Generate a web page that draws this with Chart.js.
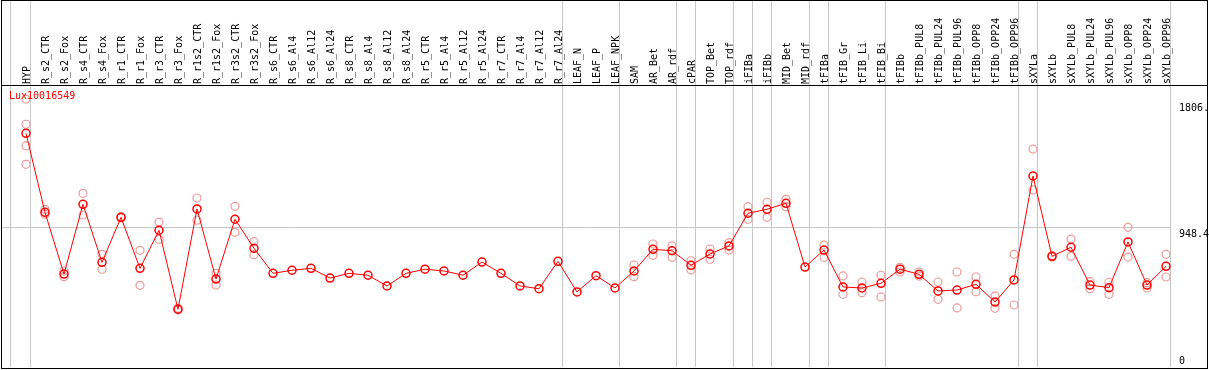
<!DOCTYPE html>
<html>
<head>
<meta charset="utf-8">
<script src="https://cdn.jsdelivr.net/npm/chart.js@4"></script>
<style>
  body { margin: 0; background: #fff; }
  canvas { display: block; }
</style>
</head>
<body>
<canvas id="chart" width="1209" height="370"></canvas>
<script>
// sample names along the top
const categories = [
  "HYP", "R_s2_CTR", "R_s2_Fox", "R_s4_CTR", "R_s4_Fox", "R_r1_CTR", "R_r1_Fox",
  "R_r3_CTR", "R_r3_Fox", "R_r1s2_CTR", "R_r1s2_Fox", "R_r3s2_CTR", "R_r3s2_Fox",
  "R_s6_CTR", "R_s6_Al4", "R_s6_Al12", "R_s6_Al24", "R_s8_CTR", "R_s8_Al4",
  "R_s8_Al12", "R_s8_Al24", "R_r5_CTR", "R_r5_Al4", "R_r5_Al12", "R_r5_Al24",
  "R_r7_CTR", "R_r7_Al4", "R_r7_Al12", "R_r7_Al24", "LEAF_N", "LEAF_P", "LEAF_NPK",
  "SAM", "AR_Bet", "AR_rdf", "cPAR", "TOP_Bet", "TOP_rdf", "iFIBa", "iFIBb",
  "MID_Bet", "MID_rdf", "tFIBa", "tFIB_Gr", "tFIB_Li", "tFIB_Bi", "tFIBb",
  "tFIBb_PUL8", "tFIBb_PUL24", "tFIBb_PUL96", "tFIBb_OPP8", "tFIBb_OPP24", "tFIBb_OPP96",
  "sXYLa", "sXYLb", "sXYLb_PUL8", "sXYLb_PUL24", "sXYLb_PUL96", "sXYLb_OPP8",
  "sXYLb_OPP24", "sXYLb_OPP96"
];

// mean expression per sample
const meanValues = [
  1594, 1055, 634, 1110, 714, 1021, 673, 933, 394, 1078, 600, 1008, 810,
  639, 660, 673, 607, 639, 626, 553, 639, 667, 655, 626, 716,
  639, 553, 534, 721, 512, 623, 539,
  655, 803, 793, 694, 771, 826, 1049, 1076, 1117, 682,
  798, 546, 539, 571, 667, 632, 519, 525, 564, 443, 594,
  1303, 755, 817, 559, 541, 853, 559, 687
];

// individual replicates (pale circles)
const replicateValues = [
  [1828, 1656, 1508, 1383], [1076, 1042], [655, 616], [1185, 1037], [769, 667],
  [1025, 1017], [796, 557], [989, 871], [400, 389], [1153, 1001], [639, 559],
  [1096, 919], [855, 766],
  [], [], [], [], [], [], [], [], [], [], [], [], [], [], [], [], [], [], [],
  [696, 616], [839, 762], [826, 748], [725, 662], [805, 735], [848, 798],
  [1094, 1008], [1124, 1021], [1144, 1094], [],
  [832, 748], [621, 496], [580, 507], [626, 478], [680, 648], [648, 620],
  [580, 462], [648, 403], [614, 514], [484, 400], [769, 423],
  [1487, 1208], [760, 750], [873, 755], [582, 534], [578, 496], [953, 750],
  [575, 539], [769, 614]
];

// right-hand axis
const tickValues = [0, 948.4, 1806];
const tickLabels = ["0", "948.4", "1806."];

// group separator positions (between samples)
const separators = [-0.8, 0.25, 28.25, 31.25, 34.25, 35.25, 37.25, 38.25, 39.25,
  41.25, 42.25, 45.25, 52.25, 53.25, 60.25];

const probeName = "Lux10016549";
const mono = "'DejaVu Sans Mono', 'Liberation Mono', monospace";

const meanPoints = meanValues.map((v, i) => ({ x: i, y: v }));
const repPoints = replicateValues.flatMap((reps, i) => reps.map(v => ({ x: i, y: v })));

const noPad = s => { s.paddingLeft = 0; s.paddingRight = 0; };

const frame = {
  id: "frame",
  afterDraw(chart) {
    const { ctx, chartArea, scales } = chart;
    ctx.save();
    // right axis labels
    ctx.font = "10px " + mono;
    ctx.fillStyle = "#000";
    ctx.textBaseline = "top";
    ctx.textAlign = "left";
    tickValues.forEach((v, i) => {
      let y = scales.y.getPixelForValue(v) + 1;
      y = Math.min(y, chartArea.bottom - 11);
      ctx.fillText(tickLabels[i], chartArea.right + 8, y);
    });
    // probe name
    ctx.fillStyle = "#ff0000";
    ctx.fillText(probeName, chartArea.left + 7, chartArea.top + 5);
    // borders
    ctx.strokeStyle = "#000";
    ctx.lineWidth = 1;
    ctx.strokeRect(1.5, 0.5, 1206, 368);
    ctx.beginPath();
    ctx.moveTo(1, 85.5);
    ctx.lineTo(1208, 85.5);
    ctx.stroke();
    ctx.restore();
  }
};

new Chart(document.getElementById("chart"), {
  type: "scatter",
  data: {
    datasets: [
      {
        label: probeName,
        data: meanPoints,
        showLine: true,
        borderColor: "#ff0000",
        borderWidth: 1,
        pointRadius: 4,
        pointBorderWidth: 1.5,
        pointBorderColor: "#ff0000",
        pointBackgroundColor: "rgba(0,0,0,0)",
        tension: 0,
        order: 0
      },
      {
        label: "replicates",
        data: repPoints,
        showLine: false,
        pointRadius: 4,
        pointBorderWidth: 1.2,
        pointBorderColor: "#ee9a9a",
        pointBackgroundColor: "rgba(0,0,0,0)",
        order: 1
      }
    ]
  },
  options: {
    responsive: false,
    animation: false,
    layout: { autoPadding: false, padding: { left: 2, right: 0, top: 0, bottom: 3 } },
    plugins: { legend: { display: false }, tooltip: { enabled: false } },
    scales: {
      x: {
        type: "linear",
        position: "top",
        weight: 1,
        min: -1.263,
        max: 60.263,
        afterBuildTicks: s => { s.ticks = categories.map((c, i) => ({ value: i })); },
        afterFit: s => { s.height = 86; noPad(s); },
        grid: { display: false, drawTicks: false },
        border: { display: false },
        ticks: {
          autoSkip: false,
          maxRotation: 90,
          minRotation: 90,
          padding: 2,
          labelOffset: 13,
          color: "#000",
          font: { family: mono, size: 10 },
          callback: v => categories[v]
        }
      },
      x2: {
        type: "linear",
        position: "top",
        weight: 0,
        min: -1.263,
        max: 60.263,
        afterBuildTicks: s => { s.ticks = separators.map(v => ({ value: v })); },
        afterFit: s => { s.height = 0; noPad(s); },
        grid: { color: "#c8c8c8", lineWidth: 1, drawTicks: true, tickLength: 86 },
        border: { display: false },
        ticks: { display: false }
      },
      y: {
        position: "right",
        min: 0,
        max: 1917,
        afterBuildTicks: s => { s.ticks = tickValues.map(v => ({ value: v })); },
        afterFit: s => { s.width = 38; },
        grid: {
          color: c => (c.tick && c.tick.value === 948.4 ? "#c8c8c8" : "rgba(0,0,0,0)"),
          drawTicks: false
        },
        border: { display: false },
        ticks: { display: false }
      }
    }
  },
  plugins: [frame]
});
</script>
</body>
</html>
